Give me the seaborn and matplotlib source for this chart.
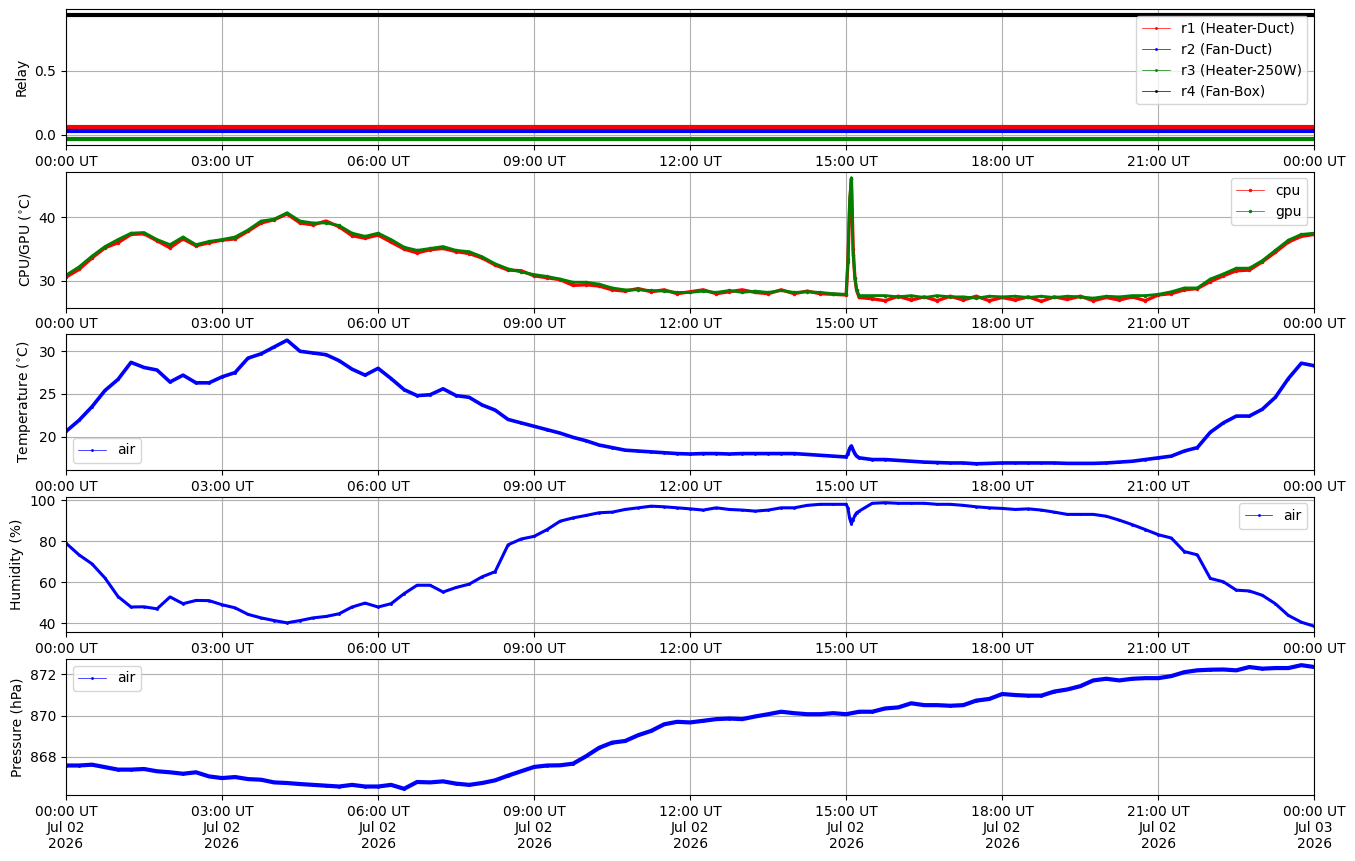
import matplotlib.pyplot as plt
import matplotlib.dates as mdates
import numpy as np
import pandas as pd
import seaborn as sns

# 샘플 시각: 2026-07-02 00:00 UT 부터 15분 간격 (97개), 15:00 직후 스파이크 구간은 따로
start_time = "2026-07-02 00:00"
end_time = "2026-07-03 00:00"
n_samples = 97
spike_minutes = [2, 4, 6, 8, 10, 12]

# 릴레이 상태 (그림에서 읽은 일정한 레벨)
relay_labels = ["r1 (Heater-Duct)", "r2 (Fan-Duct)", "r3 (Heater-250W)", "r4 (Fan-Box)"]
relay_levels = [0.06, 0.03, -0.03, 0.93]
relay_colors = ["red", "blue", "green", "black"]

# CPU / GPU 온도 (°C)
cpu_temp = [
    30.6, 31.8, 33.6, 35.2, 36.0, 37.3, 37.4, 36.3, 35.2, 36.6, 35.5, 36.0,
    36.4, 36.6, 37.8, 39.1, 39.6, 40.5, 39.1, 38.8, 39.4, 38.5, 37.1, 36.7,
    37.2, 36.1, 35.0, 34.4, 34.9, 35.1, 34.6, 34.3, 33.6, 32.5, 31.7, 31.6,
    30.8, 30.5, 30.2, 29.3, 29.4, 29.2, 28.6, 28.4, 28.8, 28.3, 28.6, 28.0,
    28.3,
    28.6, 28.0, 28.3, 28.6, 28.2, 28.0, 28.6, 28.0, 28.4, 28.0, 27.9, 27.8,
    27.4, 27.2, 26.9, 27.6, 27.0, 27.5, 26.9, 27.6, 27.0, 27.6, 26.9, 27.4,
    27.0, 27.5, 26.8, 27.5, 27.1, 27.6, 26.9, 27.4, 27.0, 27.5, 26.9, 27.8,
    28.0, 28.6, 28.8, 29.9, 30.8, 31.6, 31.7, 33.0, 34.5, 36.1, 37.0, 37.3,
]
gpu_temp = [
    30.9, 32.2, 33.9, 35.4, 36.5, 37.5, 37.6, 36.5, 35.7, 36.9, 35.7, 36.2,
    36.5, 36.9, 38.0, 39.4, 39.7, 40.7, 39.4, 39.1, 39.1, 38.7, 37.5, 37.0,
    37.5, 36.5, 35.3, 34.8, 35.1, 35.4, 34.8, 34.6, 33.8, 32.7, 31.9, 31.4,
    31.0, 30.7, 30.3, 29.8, 29.8, 29.5, 28.9, 28.6, 28.6, 28.5, 28.4, 28.2,
    28.2,
    28.4, 28.2, 28.5, 28.2, 28.4, 28.2, 28.5, 28.2, 28.3, 28.2, 28.0, 27.9,
    27.7, 27.7, 27.7, 27.5, 27.7, 27.4, 27.7, 27.5, 27.5, 27.3, 27.6, 27.5,
    27.6, 27.4, 27.6, 27.4, 27.6, 27.5, 27.3, 27.6, 27.5, 27.7, 27.7, 27.9,
    28.3, 28.9, 28.9, 30.3, 31.1, 32.0, 32.0, 33.2, 34.8, 36.4, 37.3, 37.5,
]
cpu_spike = [33.0, 42.0, 46.0, 35.0, 30.5, 28.5]
gpu_spike = [33.5, 43.0, 46.2, 34.0, 30.5, 28.6]

# 공기 온도 (°C)
air_temp = [
    20.6, 21.9, 23.5, 25.4, 26.7, 28.7, 28.1, 27.8, 26.4, 27.2, 26.3, 26.3,
    27.0, 27.5, 29.2, 29.7, 30.5, 31.3, 30.0, 29.8, 29.6, 28.9, 27.9, 27.2,
    28.0, 26.8, 25.5, 24.8, 24.9, 25.6, 24.8, 24.6, 23.7, 23.1, 22.0, 21.6,
    21.2, 20.8, 20.4, 19.9, 19.5, 19.0, 18.7, 18.4, 18.3, 18.2, 18.1, 18.0,
    17.95,
    18.0, 18.0, 17.95, 18.0, 18.0, 18.0, 18.0, 18.0, 17.9, 17.8, 17.7, 17.6,
    17.5, 17.3, 17.3, 17.2, 17.1, 17.0, 16.95, 16.9, 16.9, 16.8, 16.85, 16.9,
    16.9, 16.9, 16.9, 16.9, 16.85, 16.85, 16.85, 16.9, 17.0, 17.1, 17.3, 17.5,
    17.7, 18.3, 18.7, 20.5, 21.6, 22.4, 22.4, 23.2, 24.6, 26.8, 28.6, 28.3,
]
air_temp_spike = [18.0, 18.6, 18.9, 18.4, 18.0, 17.7]

# 습도 (%)
air_hum = [
    79.0, 73.3, 68.9, 62.0, 53.0, 47.9, 48.0, 47.0, 52.8, 49.5, 51.1, 51.0,
    49.0, 47.5, 44.3, 42.6, 41.3, 40.2, 41.3, 42.6, 43.3, 44.6, 47.9, 49.8,
    47.9, 49.5, 54.4, 58.5, 58.5, 55.2, 57.4, 59.0, 62.6, 65.1, 78.2, 81.0,
    82.3, 85.6, 89.7, 91.3, 92.5, 93.8, 94.1, 95.4, 96.2, 97.0, 96.7, 96.2,
    95.7,
    95.1, 96.2, 95.4, 95.1, 94.6, 95.1, 96.2, 96.2, 97.4, 97.9, 97.9, 97.9,
    94.6, 98.4, 98.7, 98.4, 98.4, 98.4, 97.9, 97.9, 97.4, 96.7, 96.2, 95.9,
    95.4, 95.7, 95.1, 94.1, 93.0, 93.0, 93.0, 92.1, 90.2, 88.0, 85.6, 83.1,
    81.5, 74.9, 73.3, 61.8, 60.2, 56.1, 55.7, 53.6, 49.5, 43.8, 40.5, 38.5,
]
air_hum_spike = [96.0, 91.0, 88.5, 90.5, 92.5, 93.8]

# 기압 (hPa)
air_pres = [
    867.58, 867.58, 867.62, 867.50, 867.38, 867.38, 867.41, 867.30, 867.25,
    867.18, 867.25, 867.05, 866.97, 867.02, 866.92, 866.89, 866.76, 866.73,
    866.68, 866.64, 866.60, 866.56, 866.64, 866.56, 866.56, 866.64, 866.45,
    866.78, 866.76, 866.81, 866.70, 866.64, 866.73, 866.86, 867.09, 867.30,
    867.51, 867.58, 867.59, 867.67, 868.03, 868.44, 868.69, 868.77, 869.05,
    869.26, 869.58, 869.70, 869.67,
    869.75, 869.83, 869.86, 869.83, 869.96, 870.07, 870.19, 870.12, 870.07,
    870.07, 870.12, 870.07, 870.19, 870.19, 870.35, 870.40, 870.60, 870.51,
    870.51, 870.48, 870.51, 870.73, 870.81, 871.05, 871.00, 870.97, 870.97,
    871.17, 871.27, 871.43, 871.71, 871.79, 871.71, 871.79, 871.82, 871.82,
    871.92, 872.11, 872.20, 872.23, 872.24, 872.20, 872.36, 872.28, 872.31,
    872.31, 872.45, 872.36,
]


def make_series(values, spike=None):
    times = list(pd.date_range(start_time, periods=n_samples, freq="15min"))
    vals = list(values)
    if spike is not None:
        base = pd.Timestamp("2026-07-02 15:00")
        times += [base + pd.Timedelta(minutes=m) for m in spike_minutes]
        vals += list(spike)
    return pd.DataFrame({"time": times, "value": vals}).sort_values("time")


def draw(ax, df, color, label, band=2.6, ms=3):
    # 두꺼운 선으로 촘촘한 데이터 띠를 흉내내고, 얇은 선+점은 범례용
    sns.lineplot(data=df, x="time", y="value", ax=ax, color=color,
                 lw=band, legend=False)
    sns.lineplot(data=df, x="time", y="value", ax=ax, color=color, lw=0.5,
                 marker=".", markersize=ms, markeredgecolor=color,
                 markeredgewidth=0.5, label=label)


def main():
    fig, axes = plt.subplots(5, 1, figsize=(13.55, 8.61), dpi=100)
    fig.subplots_adjust(left=0.0487, right=0.970, top=0.9895, bottom=0.0767,
                        hspace=0.195)

    # 릴레이
    ax = axes[0]
    for lab, lev, col in zip(relay_labels, relay_levels, relay_colors):
        draw(ax, make_series(np.full(n_samples, lev)), col, lab, band=3.0)
    ax.set_ylabel("Relay")
    ax.legend(loc="upper right")

    # CPU / GPU
    ax = axes[1]
    draw(ax, make_series(cpu_temp, cpu_spike), "red", "cpu", band=2.4, ms=4)
    draw(ax, make_series(gpu_temp, gpu_spike), "green", "gpu", band=2.0, ms=4)
    ax.set_ylabel("CPU/GPU ($^{\\circ}$C)")
    ax.legend(loc="upper right")

    # 공기 온도
    ax = axes[2]
    draw(ax, make_series(air_temp, air_temp_spike), "blue", "air")
    ax.set_ylabel("Temperature ($^{\\circ}$C)")
    ax.legend(loc="lower left")

    # 습도
    ax = axes[3]
    draw(ax, make_series(air_hum, air_hum_spike), "blue", "air", band=2.2)
    ax.set_ylabel("Humidity (%)")
    ax.legend(loc="upper right")

    # 기압
    ax = axes[4]
    draw(ax, make_series(air_pres), "blue", "air", band=3.0)
    ax.set_ylabel("Pressure (hPa)")
    ax.legend(loc="upper left")

    for i, ax in enumerate(axes):
        ax.set_xlim(pd.Timestamp(start_time), pd.Timestamp(end_time))
        ax.xaxis.set_major_locator(mdates.HourLocator(byhour=range(0, 24, 3)))
        if i == len(axes) - 1:
            ax.xaxis.set_major_formatter(mdates.DateFormatter("%H:%M UT\n%b %d\n%Y"))
        else:
            ax.xaxis.set_major_formatter(mdates.DateFormatter("%H:%M UT"))
        ax.set_xlabel("")
        ax.grid(True)

    fig.savefig("out.png")


if __name__ == "__main__":
    main()
